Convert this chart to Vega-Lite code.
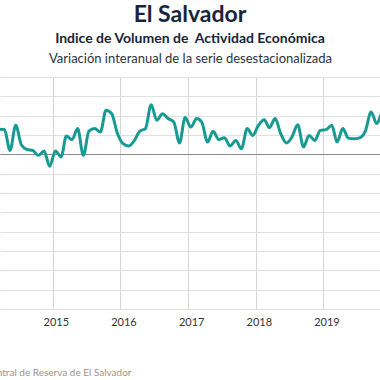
{
  "$schema": "https://vega.github.io/schema/vega-lite/v6.json",
  "width": 380,
  "height": 232,
  "autosize": {"type": "none"},
  "padding": {"left": 0, "top": 77, "right": 0, "bottom": 71},
  "background": "white",
  "title": {
    "text": "El Salvador",
    "subtitle": "Indice de Volumen de \u00a0Actividad Económica",
    "anchor": "middle",
    "font": "Lato",
    "fontSize": 23,
    "fontWeight": "bold",
    "color": "#17253a",
    "subtitleFont": "Lato",
    "subtitleFontSize": 14,
    "subtitleFontWeight": "bold",
    "subtitleColor": "#17253a",
    "subtitlePadding": 5,
    "offset": 6,
    "frame": "group"
  },
  "config": {
    "view": {"stroke": null},
    "axis": {"labelFont": "Lato", "titleFont": "Lato"}
  },
  "data": {
    "values": [
      {"date": "2014-02-15", "v": 1.3},
      {"date": "2014-03-15", "v": 1.3},
      {"date": "2014-04-15", "v": 1.28},
      {"date": "2014-05-15", "v": 0.2},
      {"date": "2014-06-15", "v": 1.5},
      {"date": "2014-07-15", "v": 0.5},
      {"date": "2014-08-15", "v": 0.25},
      {"date": "2014-09-15", "v": 0.2},
      {"date": "2014-10-15", "v": -0.05},
      {"date": "2014-11-15", "v": 0.17},
      {"date": "2014-12-15", "v": -0.62},
      {"date": "2015-01-15", "v": 0.17},
      {"date": "2015-02-15", "v": -0.14},
      {"date": "2015-03-15", "v": 0.95},
      {"date": "2015-04-15", "v": 0.76},
      {"date": "2015-05-15", "v": 1.33},
      {"date": "2015-06-15", "v": -0.05},
      {"date": "2015-07-15", "v": 1.2},
      {"date": "2015-08-15", "v": 1.33},
      {"date": "2015-09-15", "v": 1.15},
      {"date": "2015-10-15", "v": 2.28},
      {"date": "2015-11-15", "v": 2.1},
      {"date": "2015-12-15", "v": 1.1},
      {"date": "2016-01-15", "v": 0.55},
      {"date": "2016-02-15", "v": 0.43},
      {"date": "2016-03-15", "v": 0.7},
      {"date": "2016-04-15", "v": 1.2},
      {"date": "2016-05-15", "v": 1.33},
      {"date": "2016-06-15", "v": 2.57},
      {"date": "2016-07-15", "v": 1.76},
      {"date": "2016-08-15", "v": 2.1},
      {"date": "2016-09-15", "v": 1.85},
      {"date": "2016-10-15", "v": 1.67},
      {"date": "2016-11-15", "v": 0.59},
      {"date": "2016-12-15", "v": 1.9},
      {"date": "2017-01-15", "v": 1.41},
      {"date": "2017-02-15", "v": 1.85},
      {"date": "2017-03-15", "v": 1.67},
      {"date": "2017-04-15", "v": 0.64},
      {"date": "2017-05-15", "v": 1.19},
      {"date": "2017-06-15", "v": 0.76},
      {"date": "2017-07-15", "v": 0.86},
      {"date": "2017-08-15", "v": 0.43},
      {"date": "2017-09-15", "v": 0.72},
      {"date": "2017-10-15", "v": 0.29},
      {"date": "2017-11-15", "v": 1.33},
      {"date": "2017-12-15", "v": 0.98},
      {"date": "2018-01-15", "v": 1.5},
      {"date": "2018-02-15", "v": 1.79},
      {"date": "2018-03-15", "v": 1.38},
      {"date": "2018-04-15", "v": 1.85},
      {"date": "2018-05-15", "v": 1.07},
      {"date": "2018-06-15", "v": 0.59},
      {"date": "2018-07-15", "v": 0.9},
      {"date": "2018-08-15", "v": 1.53},
      {"date": "2018-09-15", "v": 0.38},
      {"date": "2018-10-15", "v": 0.98},
      {"date": "2018-11-15", "v": 0.72},
      {"date": "2018-12-15", "v": 1.24},
      {"date": "2019-01-15", "v": 1.28},
      {"date": "2019-02-15", "v": 1.5},
      {"date": "2019-03-15", "v": 0.64},
      {"date": "2019-04-15", "v": 1.33},
      {"date": "2019-05-15", "v": 0.84},
      {"date": "2019-06-15", "v": 0.8},
      {"date": "2019-07-15", "v": 0.85},
      {"date": "2019-08-15", "v": 1.2},
      {"date": "2019-09-15", "v": 2.19},
      {"date": "2019-10-15", "v": 1.59},
      {"date": "2019-11-15", "v": 2.2},
      {"date": "2019-12-15", "v": 2.4}
    ]
  },
  "mark": {"type": "line", "color": "#179a92", "strokeWidth": 3, "interpolate": "monotone", "clip": true},
  "encoding": {
    "x": {
      "field": "date",
      "type": "temporal",
      "scale": {"domain": ["2014-03-22", "2019-11-02"]},
      "axis": {
        "values": [{"year": 2015, "month": 1, "date": 1}, {"year": 2016, "month": 1, "date": 1}, {"year": 2017, "month": 1, "date": 1}, {"year": 2018, "month": 1, "date": 1}, {"year": 2019, "month": 1, "date": 1}],
        "format": "%Y",
        "domain": false,
        "ticks": false,
        "grid": true,
        "gridColor": "#d4d4d4",
        "gridWidth": 1,
        "labelFontSize": 11,
        "labelColor": "#333333",
        "labelPadding": 7,
        "labelOffset": 3,
        "title": "Fuente: Banco Central de Reserva de El Salvador",
        "titleAnchor": "start",
        "titleAlign": "left",
        "titleBaseline": "alphabetic",
        "titleX": -81,
        "titleY": 66,
        "titleFontSize": 10,
        "titleFontWeight": "normal",
        "titleColor": "#a39382"
      }
    },
    "y": {
      "field": "v",
      "type": "quantitative",
      "scale": {"domain": [-8, 4], "nice": false, "zero": false},
      "axis": {
        "values": [-8, -7, -6, -5, -4, -3, -2, -1, 0, 1, 2, 3, 4],
        "labels": false,
        "ticks": false,
        "domain": false,
        "grid": true,
        "gridColor": {"condition": {"test": "datum.value === 0", "value": "#8a8a8a"}, "value": "#e0e0e0"},
        "gridWidth": 1,
        "title": "Variación interanual de la serie desestacionalizada",
        "titleAngle": 0,
        "titleAlign": "center",
        "titleBaseline": "alphabetic",
        "titleX": 190,
        "titleY": -15,
        "titleFontSize": 13,
        "titleFontWeight": "normal",
        "titleColor": "#2a3540"
      }
    }
  }
}
